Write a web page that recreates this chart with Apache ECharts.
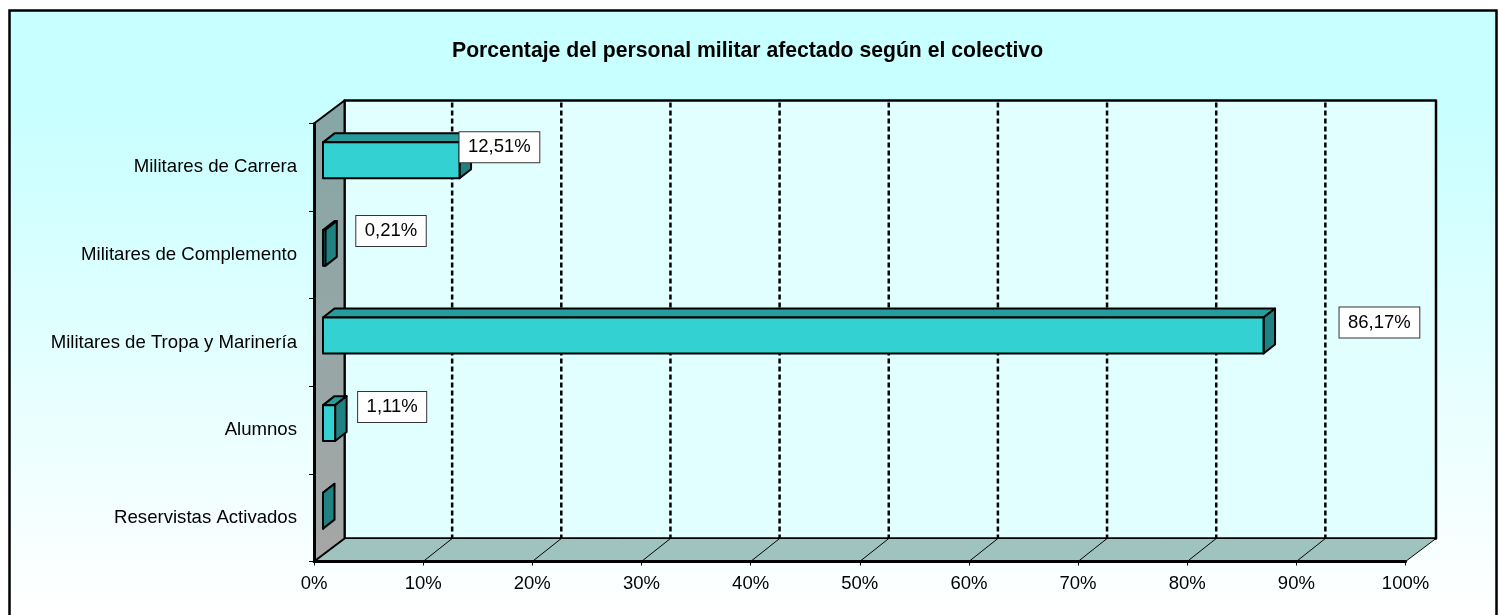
<!DOCTYPE html>
<html>
<head>
<meta charset="utf-8">
<title>Porcentaje del personal militar</title>
<script src="https://cdn.jsdelivr.net/npm/echarts@6/dist/echarts.min.js"></script>
<style>
html, body { margin: 0; padding: 0; background: #fff; }
#chart { width: 1499px; height: 615px; }
</style>
</head>
<body>
<div id="chart"></div>
<script>
var chartTitle = 'Porcentaje del personal militar afectado según el colectivo';
var categories = ['Militares de Carrera', 'Militares de Complemento', 'Militares de Tropa y Marinería', 'Alumnos', 'Reservistas Activados'];
var values = [12.51, 0.21, 86.17, 1.11, 0];
var gridTicks = [10, 20, 30, 40, 50, 60, 70, 80, 90];

// hand placed data labels in the original: shift from the end of the bar
var labelShift = [[0, -20], [31, -24], [76, -20], [23, -23], [0, 0]];

// fake 3d
var wallDx = 30.5, wallDy = -23;
var gridDx = 29;
var barX = 9, barY = -7, barDx = 11.5, barDy = -9;
var barRatio = 0.41;

var chart = echarts.init(document.getElementById('chart'));

function poly(points, fill, lineWidth) {
	return {
		type: 'polygon',
		shape: { points: points },
		style: { fill: fill, stroke: '#000', lineWidth: lineWidth, lineJoin: 'round' }
	};
}

function line(x1, y1, x2, y2, width, dash) {
	return {
		type: 'line',
		shape: { x1: x1, y1: y1, x2: x2, y2: y2 },
		style: { stroke: '#000', lineWidth: width, lineDash: dash || null }
	};
}

function renderWalls(params) {
	var c = params.coordSys;
	var l = c.x, r = c.x + c.width, t = c.y, b = c.y + c.height;
	return {
		type: 'group',
		children: [
			poly([[l + wallDx, t + wallDy], [r + wallDx, t + wallDy], [r + wallDx, b + wallDy], [l + wallDx, b + wallDy]], '#e1ffff', 2.5),
			poly([[l, b], [l + wallDx, b + wallDy], [r + wallDx, b + wallDy], [r, b]], '#9fc4c0', 1),
			poly([[l, t], [l + wallDx, t + wallDy], [l + wallDx, b + wallDy], [l, b]], {
				type: 'linear', x: 0, y: 0, x2: 0, y2: 1,
				colorStops: [{ offset: 0, color: '#86a6a6' }, { offset: 1, color: '#a6a6a6' }]
			}, 2)
		]
	};
}

function renderGridLine(params, api) {
	var c = params.coordSys;
	var x = api.coord([api.value(0), 0])[0];
	var b = c.y + c.height;
	return {
		type: 'group',
		children: [
			line(x + gridDx, c.y + wallDy + 2, x + gridDx, b + wallDy, 2.5, [5, 3]),
			line(x, b, x + gridDx, b + wallDy, 1)
		]
	};
}

function renderBar(params, api) {
	var i = api.value(1);
	var h = api.size([0, 1])[1] * barRatio;
	var start = api.coord([0, i]);
	var end = api.coord([api.value(0), i]);
	var x0 = start[0] + barX, x1 = end[0] + barX;
	var y0 = start[1] + barY - h / 2, y1 = y0 + h;
	return {
		type: 'group',
		children: [
			poly([[x0, y0], [x0 + barDx, y0 + barDy], [x1 + barDx, y0 + barDy], [x1, y0]], '#279c9c', 2),
			poly([[x1, y0], [x1 + barDx, y0 + barDy], [x1 + barDx, y1 + barDy], [x1, y1]], '#1f8181', 2),
			poly([[x0, y0], [x1, y0], [x1, y1], [x0, y1]], '#33d1d1', 2)
		]
	};
}

function renderLabel(params, api) {
	var i = api.value(1);
	var v = api.value(0);
	if (!v) return null;
	var end = api.coord([v, i]);
	return {
		type: 'text',
		x: end[0] + barX + labelShift[i][0],
		y: end[1] + labelShift[i][1],
		style: {
			text: v.toFixed(2).replace('.', ',') + '%',
			fill: '#000',
			font: '18.5px "Liberation Sans", Arial, sans-serif',
			verticalAlign: 'middle',
			lineHeight: 18,
			backgroundColor: '#fff',
			borderColor: '#333',
			borderWidth: 1,
			padding: [6, 8.5]
		}
	};
}

var barData = values.map(function (v, i) { return [v, i]; });

chart.setOption({
	animation: false,
	textStyle: { fontFamily: '"Liberation Sans", Arial, sans-serif' },
	title: {
		text: chartTitle,
		left: 447,
		top: 36,
		textStyle: { fontSize: 21.2, fontWeight: 'bold', color: '#000' }
	},
	graphic: [{
		type: 'rect',
		z: -10,
		shape: { x: 9.5, y: 10.5, width: 1487, height: 640 },
		style: {
			fill: {
				type: 'linear', x: 0, y: 0, x2: 0, y2: 1,
				colorStops: [
					{ offset: 0, color: '#c8ffff' },
					{ offset: 0.15, color: '#c8ffff' },
					{ offset: 0.94, color: '#ffffff' },
					{ offset: 1, color: '#ffffff' }
				]
			},
			stroke: '#000',
			lineWidth: 2.5
		}
	}],
	grid: { left: 314, right: 93.5, top: 123.5, bottom: 53.5 },
	xAxis: {
		type: 'value',
		min: 0,
		max: 100,
		interval: 10,
		z: 5,
		splitLine: { show: false },
		axisLine: { show: true, lineStyle: { color: '#000', width: 3 } },
		axisTick: { show: true, length: 4, lineStyle: { color: '#000', width: 1 } },
		axisLabel: { formatter: '{value}%', fontSize: 18.5, color: '#000', margin: 13 }
	},
	yAxis: {
		type: 'category',
		inverse: true,
		data: categories,
		z: 5,
		axisLine: { show: true, lineStyle: { color: '#000', width: 3 } },
		axisTick: { show: true, length: 5, lineStyle: { color: '#000', width: 1 } },
		axisLabel: { fontSize: 18.6, color: '#000', margin: 17 }
	},
	series: [
		{ type: 'custom', z: 1, silent: true, renderItem: renderWalls, data: [[0, 0]] },
		{ type: 'custom', z: 2, silent: true, renderItem: renderGridLine, data: gridTicks.map(function (t) { return [t, 0]; }) },
		{ type: 'custom', z: 3, silent: true, renderItem: renderBar, data: barData },
		{ type: 'custom', z: 4, silent: true, renderItem: renderLabel, data: barData }
	]
});
</script>
</body>
</html>
